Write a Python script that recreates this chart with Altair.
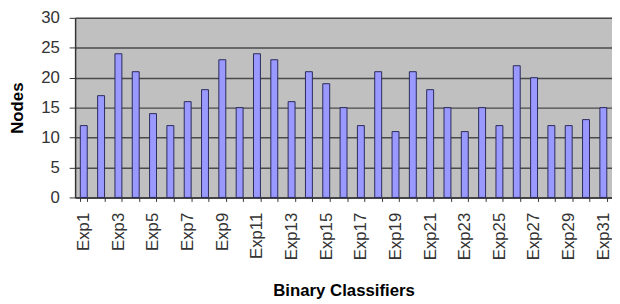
import altair as alt
import pandas as pd

experiments = ["Exp1", "Exp2", "Exp3", "Exp4", "Exp5", "Exp6", "Exp7", "Exp8",
               "Exp9", "Exp10", "Exp11", "Exp12", "Exp13", "Exp14", "Exp15", "Exp16",
               "Exp17", "Exp18", "Exp19", "Exp20", "Exp21", "Exp22", "Exp23", "Exp24",
               "Exp25", "Exp26", "Exp27", "Exp28", "Exp29", "Exp30", "Exp31"]
nodes = [12, 17, 24, 21, 14, 12, 16, 18, 23, 15, 24, 23, 16, 21, 19, 15,
         12, 21, 11, 21, 18, 15, 11, 15, 12, 22, 20, 12, 12, 13, 15]
y_ticks = [0, 5, 10, 15, 20, 25, 30]

df = pd.DataFrame({"Experiment": experiments, "Nodes": nodes})

font = "Liberation Sans"

chart = alt.Chart(df).mark_bar(
    fill="#9999ff", stroke="#2a2a5a", strokeWidth=1
).encode(
    x=alt.X(
        "Experiment:N",
        sort=experiments,
        scale=alt.Scale(paddingInner=0.6, paddingOuter=0.3),
        axis=alt.Axis(
            title="Binary Classifiers",
            labelAngle=-90,
            labelAlign="right",
            labelBaseline="middle",
            labelExpr="toNumber(substring(datum.value, 3)) % 2 == 1 ? datum.value : ''",
            labelOverlap=False,
            tickBand="extent",
            tickSize=4,
            tickColor="#333333",
            labelPadding=11,
            labelFont=font,
            labelFontSize=17,
            labelColor="#333333",
            domainColor="#333333",
            domainWidth=1.5,
            grid=False,
            titleFont=font,
            titleFontSize=17,
            titleFontWeight="bold",
            titleColor="#000000",
            titlePadding=23,
        ),
    ),
    y=alt.Y(
        "Nodes:Q",
        scale=alt.Scale(domain=[0, 30], nice=False),
        axis=alt.Axis(
            values=y_ticks,
            title="Nodes",
            tickSize=6,
            tickColor="#333333",
            labelPadding=10,
            labelFont=font,
            labelFontSize=17,
            labelColor="#333333",
            domainColor="#333333",
            domainWidth=1.5,
            gridColor="#4a4a4a",
            gridWidth=1.5,
            titleFont=font,
            titleFontSize=17,
            titleFontWeight="bold",
            titleColor="#000000",
            titlePadding=14,
        ),
    ),
).properties(
    width=544,
    height=182,
    autosize=alt.AutoSizeParams(type="none"),
    padding={"left": 68, "top": 8, "right": 0, "bottom": 106},
).configure_view(
    fill="#c0c0c0", strokeWidth=0
)

chart.save("out.html", embed_options={"renderer": "svg", "actions": False})
